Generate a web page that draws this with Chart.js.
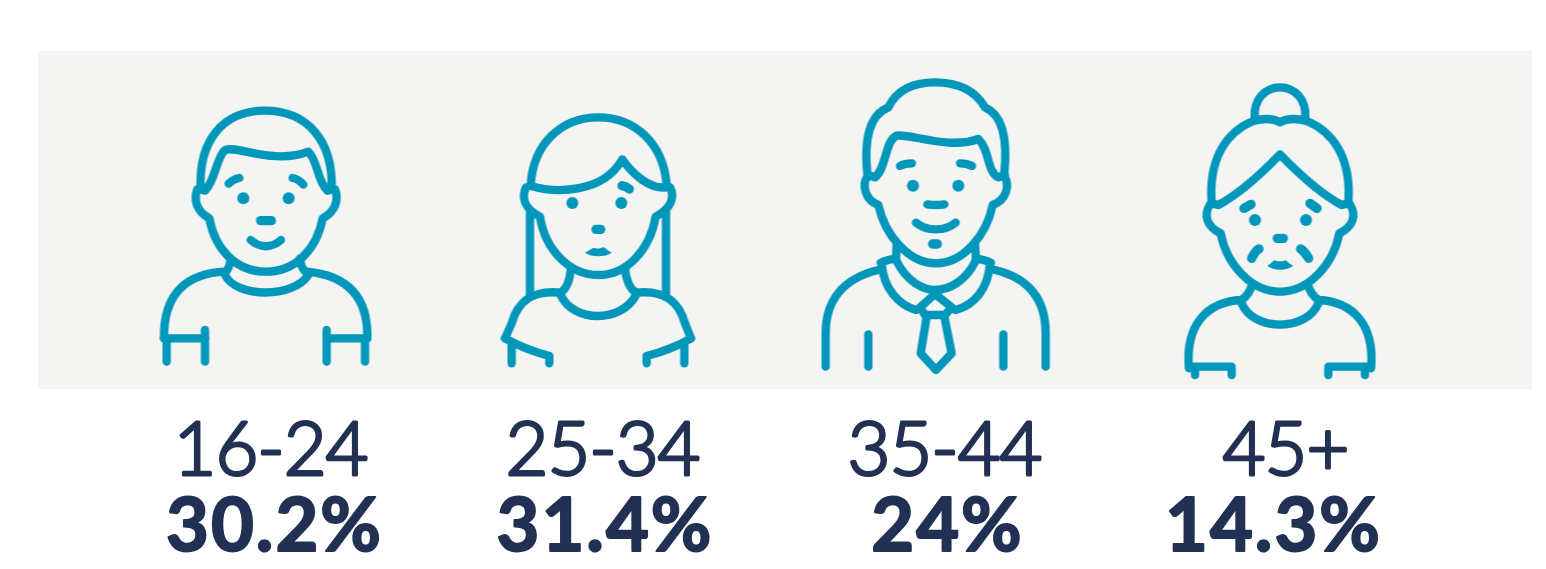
<!DOCTYPE html>
<html>
<head>
<meta charset="utf-8">
<title>Age groups</title>
<script src="https://cdn.jsdelivr.net/npm/chart.js@4"></script>
<style>
  html, body { margin: 0; padding: 0; background: #fff; }
  canvas { display: block; }
</style>
</head>
<body>
<canvas id="chart" width="1546" height="569"></canvas>
<script>
const ages = ["16-24", "25-34", "35-44", "45+"];
const shares = [30.2, 31.4, 24, 14.3];
const iconRow = [1, 1, 1, 1];

const TEAL = "#0097bb";
const NAVY = "#223153";
const PANEL = "#f4f4f2";

// icon outlines, in units of a 3x crop around each figure
const ICONS = [
  {
    origin: [140, 90],
    lines: [
      "M182,298 C175,150 250,62 375,62 C500,62 580,150 575,298",
      "M182,298 L195,302 C225,275 230,200 255,180 C290,165 400,225 505,185 C535,215 530,270 562,302 L575,298",
      "M172,298 C160,330 170,365 208,385 C225,480 290,545 378,545 C465,545 530,480 548,385 C585,365 598,330 585,298",
      "M266,281 C275,272 285,266 298,264", "M458,264 C470,266 480,272 490,284",
      "M332,450 C360,475 395,475 423,450",
      "M272,505 C270,525 265,540 255,548", "M480,505 C482,525 488,540 500,548",
      "M255,555 C290,625 460,625 505,555",
      "M255,545 C150,550 70,600 72,745", "M500,545 C610,555 685,610 682,745",
      "M72,745 L195,745", "M195,720 L195,815", "M80,745 L80,815",
      "M682,745 L560,745", "M560,720 L560,815", "M675,745 L675,815",
    ],
    thick: ["M362,392 L394,392"],
    dots: [[310, 325], [446, 325]],
    fills: [],
  },
  {
    origin: [490, 100],
    lines: [
      "M122,255 C130,130 215,52 325,52 C435,52 520,130 530,255",
      "M122,258 C200,280 340,280 397,178 C430,225 480,268 530,262",
      "M108,262 C95,290 100,325 150,350 C165,450 240,525 325,525 C410,525 480,450 497,350 C545,325 555,290 540,262",
      "M120,335 L120,590", "M528,335 L528,590",
      "M243,505 C240,535 232,565 212,578", "M405,505 C408,535 418,565 438,578",
      "M212,585 C250,669 395,669 438,585",
      "M212,578 C130,570 85,600 65,670 L45,715", "M438,578 C520,570 565,600 585,670 L603,715",
      "M45,715 C90,740 130,755 178,768 L178,790", "M603,715 C560,740 520,755 470,768 L470,790",
      "M65,730 L65,790", "M583,730 L583,790",
    ],
    thick: ["M396,257 C405,258 412,262 418,267", "M318,388 L332,388"],
    dots: [[247, 309], [394, 309]],
    fills: ["M285,458 C300,450 305,445 312,443 C320,447 330,447 340,441 C350,448 355,452 365,458 C345,472 305,472 285,458 Z"],
  },
  {
    origin: [810, 70],
    lines: [
      "M172,310 C165,240 165,140 235,112 C260,60 310,37 375,37 C445,37 495,60 525,112 C590,140 590,240 583,310",
      "M172,315 L195,322 C230,295 225,210 260,197 C300,190 420,240 505,207 C540,240 530,305 565,322 L585,315",
      "M172,320 C155,345 165,390 205,405 C225,495 295,580 378,580 C460,580 530,495 548,405 C590,390 600,345 583,320",
      "M270,288 C280,282 295,280 306,280", "M450,280 C462,280 475,282 486,288",
      "M352,403 C370,406 385,406 403,403",
      "M318,458 C350,485 405,485 437,458",
      "M260,520 L258,570", "M495,520 L498,570",
      "M258,570 C290,635 340,660 375,660 C420,660 470,630 498,570",
      "M212,578 C225,572 240,568 258,565", "M498,565 C515,568 530,572 543,578",
      "M215,580 C220,660 270,705 318,720", "M540,580 C535,660 490,705 437,720",
      "M375,672 L330,712 L345,735 L405,735 L425,712 Z",
      "M350,740 L332,850 L378,900 L425,850 L403,740",
      "M205,600 C100,625 47,690 47,790 L47,890", "M555,600 C660,625 707,690 707,790 L707,890",
      "M175,793 L175,890", "M580,793 L580,890",
    ],
    thick: ["M368,522 L382,522"],
    dots: [[309, 347], [445, 347]],
    fills: [],
  },
  {
    origin: [1170, 75],
    lines: [
      "M254,130 C250,72 287,37 330,37 C373,37 410,72 406,130",
      "M125,385 C115,250 170,170 250,138 C280,130 310,130 330,142 C350,130 380,130 410,138 C490,170 545,250 535,385",
      "M125,385 L145,390 C210,355 275,295 330,238 C385,295 450,355 515,390 L535,385",
      "M120,388 C100,420 110,455 152,475 C170,570 245,650 330,650 C415,650 490,570 508,475 C550,455 560,420 540,388",
      "M245,632 C240,650 230,665 215,675", "M415,632 C420,650 430,665 445,675",
      "M215,685 C250,770 410,770 445,685",
      "M215,675 C110,680 45,750 57,880", "M445,675 C550,680 615,750 603,880",
      "M57,875 L185,875 L185,900", "M75,880 L75,900",
      "M603,875 L475,875 L475,900", "M585,880 L585,900",
    ],
    thick: ["M222,400 L243,388", "M420,385 L441,400", "M322,490 L340,490", "M245,550 C250,540 258,525 267,522", "M392,522 C402,527 410,540 416,550"],
    dots: [[255, 435], [408, 435]],
    fills: ["M292,572 C305,565 310,558 312,555 C320,560 340,560 348,555 C350,558 355,565 370,572 C350,588 310,588 292,572 Z"],
  },
];

// category centres and the panel, both in page pixels
const SLOT_X = [273.5, 610.5, 947.5, 1284.5];
const PANEL_BOX = { left: 38, top: 51, right: 1532, bottom: 389 };
const AGE_NUDGE = [-3, -8, -3, 1];
const SHARE_NUDGE = [1, -5.5, 0, -11];

function makeIcon(icon, i) {
  const c = document.createElement("canvas");
  c.width = 340;
  c.height = 338;
  const g = c.getContext("2d");
  g.translate(c.width / 2 - SLOT_X[i] + icon.origin[0], c.height / 2 - 220 + icon.origin[1]);
  g.scale(1 / 3, 1 / 3);
  g.strokeStyle = TEAL;
  g.fillStyle = TEAL;
  g.lineCap = "round";
  g.lineJoin = "round";
  g.lineWidth = 25;
  icon.lines.forEach((d) => g.stroke(new Path2D(d)));
  g.lineWidth = 28;
  icon.thick.forEach((d) => g.stroke(new Path2D(d)));
  icon.fills.forEach((d) => g.fill(new Path2D(d)));
  icon.dots.forEach(([x, y]) => {
    g.beginPath();
    g.arc(x, y, 18, 0, Math.PI * 2);
    g.fill();
  });
  return c;
}

const panelPlugin = {
  id: "panel",
  beforeDraw(chart) {
    const { ctx } = chart;
    ctx.save();
    ctx.fillStyle = PANEL;
    ctx.fillRect(PANEL_BOX.left, PANEL_BOX.top, PANEL_BOX.right - PANEL_BOX.left, PANEL_BOX.bottom - PANEL_BOX.top);
    ctx.restore();
    ctx.lineJoin = "round";
  },
};

// per-label x shift and letter spacing, the source text isn't evenly spaced
function tuneAxis(nudge, spacing) {
  return (scale) => {
    const proto = Object.getPrototypeOf(scale);
    scale.getPixelForTick = (i) => proto.getPixelForTick.call(scale, i) + nudge[i];
    scale.drawLabels = (area) => {
      scale.ctx.letterSpacing = spacing;
      proto.drawLabels.call(scale, area);
      scale.ctx.letterSpacing = "0px";
    };
  };
}

function fixHeight(h) {
  return (scale) => { scale.height = h; };
}

new Chart(document.getElementById("chart"), {
  type: "line",
  data: {
    labels: ages,
    datasets: [{
      label: "Age groups",
      data: iconRow,
      showLine: false,
      pointStyle: ICONS.map(makeIcon),
      clip: false,
    }],
  },
  plugins: [panelPlugin],
  options: {
    responsive: false,
    animation: false,
    events: [],
    layout: { padding: { left: SLOT_X[0] - 168.5, right: 1546 - SLOT_X[3] - 168.5, top: PANEL_BOX.top, bottom: 0 } },
    plugins: { legend: { display: false }, tooltip: { enabled: false }, title: { display: false } },
    scales: {
      y: { display: false, min: 0, max: 2 },
      x: {
        position: "bottom",
        weight: 0,
        offset: true,
        grid: { display: false, drawTicks: false },
        border: { display: false },
        afterBuildTicks: tuneAxis(AGE_NUDGE, "-1px"),
        afterFit: fixHeight(101),
        ticks: {
          color: NAVY,
          font: { family: "Lato", size: 74, weight: 300, lineHeight: 1 },
          padding: 25,
          maxRotation: 0,
          autoSkip: false,
          textStrokeColor: NAVY,
          textStrokeWidth: 3,
        },
      },
      x2: {
        type: "category",
        labels: shares.map((v) => v + "%"),
        position: "bottom",
        weight: 1,
        offset: true,
        grid: { display: false, drawTicks: false },
        border: { display: false },
        afterBuildTicks: tuneAxis(SHARE_NUDGE, "2px"),
        afterFit: fixHeight(79),
        ticks: {
          color: NAVY,
          font: { family: "Lato", size: 74, weight: 700, lineHeight: 1 },
          padding: 0,
          maxRotation: 0,
          autoSkip: false,
          textStrokeColor: NAVY,
          textStrokeWidth: 2,
        },
      },
    },
  },
});
</script>
</body>
</html>
